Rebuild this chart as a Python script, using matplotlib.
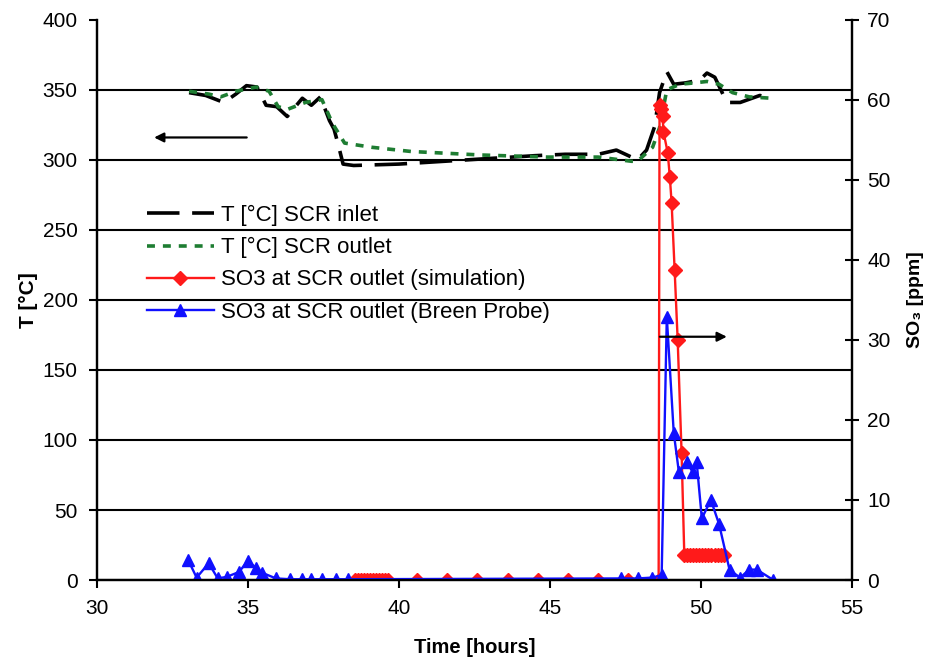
import matplotlib
matplotlib.use("Agg")
import matplotlib.pyplot as plt

plt.rcParams['font.family'] = ['Liberation Sans', 'DejaVu Sans']

# SCR inlet temperature [°C]
t_inlet = [33.05, 33.6, 34.2, 34.6, 34.95, 35.3, 35.6, 35.95, 36.3, 36.8, 37.1, 37.4,
           37.7, 37.85, 38.0, 38.15, 38.5, 40.0, 41.5, 43.0, 44.5, 45.5, 46.6, 47.2,
           47.9, 48.2, 48.47, 48.63, 48.87, 49.1, 49.5, 49.96, 50.2, 50.46, 50.86,
           51.3, 51.95, 52.35]
T_inlet = [348, 346, 341, 347, 353, 352, 339, 338, 331, 344, 339, 345,
           328, 322, 310, 297, 296, 297, 299, 301, 303, 304, 304, 307,
           300, 307, 324, 348, 363, 354, 355, 357, 362, 359, 341,
           341, 346, 344]

# SCR outlet temperature [°C]
t_outlet = [33.05, 33.7, 34.1, 34.6, 35.27, 35.7, 36.0, 36.3, 36.9, 37.45, 37.8, 38.2,
            39.1, 40.4, 42.7, 44.9, 46.6, 47.7, 47.9, 48.4, 48.63, 48.87, 49.3, 49.8,
            50.2, 50.6, 51.05, 51.6, 52.35]
T_outlet = [349, 347, 345, 349, 352, 349, 338, 336, 341, 343, 326, 312,
            309, 306, 303.5, 302, 302, 299, 299, 309, 323, 350, 354, 355,
            356, 354, 348, 345, 344]

# SO3 at SCR outlet, simulation [ppm]
t_sim = [38.55, 38.65, 38.75, 38.85, 38.95, 39.05, 39.15, 39.25, 39.35, 39.45, 39.55, 39.65,
         40.6, 41.6, 42.6, 43.6, 44.6, 45.6, 46.6, 47.6, 48.6,
         48.63, 48.67, 48.73, 48.76, 48.9, 48.97, 49.03, 49.13, 49.23, 49.36,
         49.45, 49.55, 49.65, 49.75, 49.85, 49.95, 50.05, 50.15, 50.25, 50.35,
         50.45, 50.55, 50.65, 50.75]
so3_sim = [0, 0, 0, 0, 0, 0, 0, 0, 0, 0, 0, 0,
           0, 0, 0, 0, 0, 0, 0, 0, 0,
           59.4, 58.8, 58.0, 56.0, 53.4, 50.4, 47.1, 38.7, 30.0, 15.9,
           3.1, 3.1, 3.1, 3.1, 3.1, 3.1, 3.1, 3.1, 3.1, 3.1,
           3.1, 3.1, 3.1, 3.1]

# SO3 at SCR outlet, Breen probe measurement [ppm]
t_breen = [33.02, 33.3, 33.7, 34.0, 34.3, 34.7, 35.0, 35.27, 35.47, 35.93, 36.4, 36.8,
           37.1, 37.45, 37.9, 38.3, 47.37, 47.9, 48.37, 48.7, 48.87, 49.1, 49.27,
           49.53, 49.73, 49.86, 50.03, 50.33, 50.6, 50.95, 51.3, 51.6, 51.85, 52.4]
so3_breen = [2.5, 0.3, 2.1, 0.2, 0.4, 1.0, 2.4, 1.5, 0.9, 0.2, 0.1, 0.1,
             0.1, 0.1, 0.1, 0.1, 0.2, 0.2, 0.3, 0.6, 32.9, 18.4, 13.5,
             14.7, 13.5, 14.7, 7.7, 10.0, 7.0, 1.25, 0.3, 1.3, 1.3, 0.0]

x_ticks = [30, 35, 40, 45, 50, 55]
T_ticks = [0, 50, 100, 150, 200, 250, 300, 350, 400]
so3_ticks = [0, 10, 20, 30, 40, 50, 60, 70]

fig = plt.figure(figsize=(9.28, 6.61), dpi=100)
ax = fig.add_axes([0.1045, 0.1225, 0.8135, 0.8475])
ax2 = ax.twinx()

# temperature traces
ax.plot(t_inlet, T_inlet, color='black', lw=2.6, dashes=(9, 3.5),
        label='T [°C] SCR inlet', zorder=3)
ax.plot(t_outlet, T_outlet, color='#1e7d32', lw=2.6, dashes=(2.2, 2.2),
        label='T [°C] SCR outlet', zorder=3)

# SO3 traces
ax2.plot(t_sim, so3_sim, color='#ff1a1a', lw=1.7, marker='D', ms=7,
         mec='#ff1a1a', mfc='#ff1a1a', label='SO3 at SCR outlet (simulation)')
ax2.plot(t_breen, so3_breen, color='#1010ff', lw=1.7, marker='^', ms=9,
         mec='#1010ff', mfc='#1010ff', label='SO3 at SCR outlet (Breen Probe)')

ax.set_xlim(30, 55)
ax.set_ylim(0, 400)
ax2.set_ylim(0, 70)
ax.set_xticks(x_ticks)
ax.set_yticks(T_ticks)
ax2.set_yticks(so3_ticks)

# horizontal gridlines every 50 °C
ax.yaxis.grid(True, color='black', lw=1.5)
ax.set_axisbelow(True)
ax.get_ygridlines()[-1].set_visible(False)

for a in (ax, ax2):
    a.spines['top'].set_visible(False)
    for s in ('left', 'right', 'bottom'):
        a.spines[s].set_linewidth(1.6)
        a.spines[s].set_color('black')

ax.tick_params(axis='both', direction='out', length=6, width=1.5,
               labelsize=15, colors='black', pad=8)
ax2.tick_params(axis='y', direction='inout', length=10, width=1.5,
                labelsize=15, colors='black', pad=6)

ax.set_xlabel('Time [hours]', fontsize=14.5, fontweight='bold', labelpad=14)
ax.set_ylabel('T [°C]', fontsize=15, fontweight='bold', labelpad=3)
ax2.set_ylabel('SO₃ [ppm]', fontsize=14, fontweight='bold', labelpad=12)

# direction arrows: temperature on the left axis, SO3 on the right axis
ax.annotate('', xy=(31.8, 316), xytext=(35.05, 316),
            arrowprops=dict(arrowstyle='-|>', color='black', lw=1.6,
                            mutation_scale=14))
ax2.annotate('', xy=(50.95, 30.4), xytext=(48.55, 30.4),
             arrowprops=dict(arrowstyle='-|>', color='black', lw=1.6,
                             mutation_scale=14))

h1, l1 = ax.get_legend_handles_labels()
h2, l2 = ax2.get_legend_handles_labels()
ax2.legend(h1 + h2, l1 + l2, loc='upper left', bbox_to_anchor=(147 / 928, 1 - 205 / 661),
           bbox_transform=fig.transFigure, frameon=False, fontsize=16,
           handlelength=3.0, handletextpad=0.35, labelspacing=0.5,
           borderpad=0, borderaxespad=0)

fig.savefig('out.png', dpi=100)
